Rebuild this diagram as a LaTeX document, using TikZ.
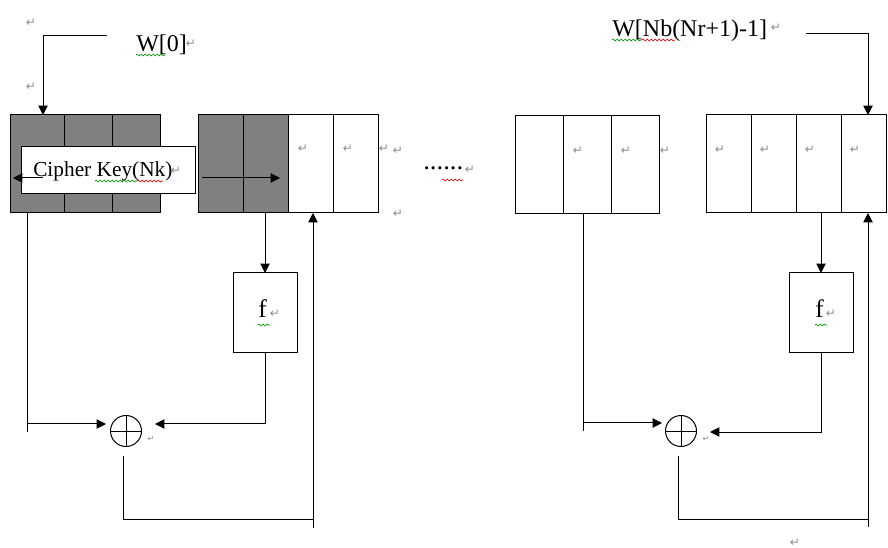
\documentclass[tikz,border=0pt]{standalone}
\usepackage{fontspec}
\setmainfont{Liberation Serif}
\newfontfamily\markfont{DejaVu Sans}
\usetikzlibrary{arrows.meta,decorations.pathmorphing}

\definecolor{keygray}{RGB}{128,128,128}
\definecolor{retgray}{RGB}{140,140,140}
\definecolor{spellgreen}{RGB}{0,150,0}
\definecolor{spellred}{RGB}{230,0,0}

\begin{document}
\begin{tikzpicture}[x=0.75pt,y=-0.75pt,
  wire/.style={line width=0.75pt},
  arr/.style={wire,-{Triangle[length=7pt,width=7pt]}},
  cell/.style={draw,line width=0.75pt,minimum height=73.5pt,inner sep=0pt,outer sep=0pt},
  keycell/.style={cell,fill=keygray},
  fbox/.style={draw,line width=0.75pt,minimum width=48pt,minimum height=60pt,inner sep=0pt,outer sep=0pt},
  xor/.style={circle,draw,line width=0.75pt,minimum size=23.25pt,inner sep=0pt,outer sep=0pt},
  bigtext/.style={font=\fontsize{18}{20}\selectfont,inner sep=0pt},
  ret/.style={font=\markfont\fontsize{9}{10}\selectfont,text=retgray,inner sep=0pt},
  tinyret/.style={font=\markfont\fontsize{6}{7}\selectfont,text=retgray,inner sep=0pt},
  squig/.style={decorate,decoration={snake,segment length=3pt,amplitude=0.7pt},line width=0.5pt}]

\fill[white] (0,0) rectangle (888,548);
\useasboundingbox (0,0) rectangle (888,548);

% first word group, all key words (shaded)
\node[keycell,minimum width=40.5pt] (a1) at (37,164) {};
\node[keycell,minimum width=36pt] (a2) at (88,164) {};
\node[keycell,minimum width=36pt] (a3) at (136,164) {};

% second word group: two key words, two expanded words
\node[keycell,minimum width=33.75pt] (b1) at (220.5,164) {};
\node[keycell,minimum width=33.75pt] (b2) at (265.5,164) {};
\node[cell,minimum width=33.75pt] (b3) at (310.5,164) {};
\node[cell,minimum width=33.75pt] (b4) at (355.5,164) {};

% later word groups
\node[cell,minimum width=36pt] (c1) at (539,164.5) {};
\node[cell,minimum width=36pt] (c2) at (587,164.5) {};
\node[cell,minimum width=36pt] (c3) at (635,164.5) {};

\node[cell,minimum width=33.75pt] (d1) at (728.5,164) {};
\node[cell,minimum width=33.75pt] (d2) at (773.5,164) {};
\node[cell,minimum width=33.75pt] (d3) at (818.5,164) {};
\node[cell,minimum width=33.75pt] (d4) at (863.5,164) {};

% cipher key label box over the key words
\node[draw,fill=white,line width=0.75pt,minimum width=130.5pt,minimum height=35.25pt,inner sep=0pt] (ck) at (108,170.5) {};
\node[font=\fontsize{16}{18}\selectfont,inner sep=0pt,anchor=base west] (ckt) at (33,177) {Cipher Key(Nk)};

% transformation boxes
\node[fbox] (f1) at (265,313) {};
\node[fbox] (f2) at (821,313) {};
\node[font=\fontsize{19}{21}\selectfont,inner sep=0pt,anchor=base west] (f1t) at (258,318) {f};
\node[font=\fontsize{19}{21}\selectfont,inner sep=0pt,anchor=base west] (f2t) at (815,318) {f};

% xor gates
\node[xor] (x1) at (126,431) {};
\node[xor] (x2) at (681,431) {};
\draw[wire] (x1.north) -- (x1.south) (x1.west) -- (x1.east);
\draw[wire] (x2.north) -- (x2.south) (x2.west) -- (x2.east);

% labels
\node[bigtext,anchor=base west] (w0) at (136,52) {W[0]};
\node[bigtext,anchor=base west] (wlast) at (612,37) {W[Nb(Nr+1)-1]};
\node[font=\fontsize{20}{22}\selectfont,inner sep=0pt,anchor=base west] (dots) at (423,170) {......};

% connector end points
\coordinate (k0) at (107,36);
\coordinate (a1in) at (43,115);
\coordinate (ckl0) at (43,178);
\coordinate (ckl1) at (13,178);
\coordinate (bs0) at (202,178);
\coordinate (bs1) at (280,178);
\coordinate (a1out) at (27,213);
\coordinate (lc) at (27,432);
\coordinate (lh) at (27,424);
\coordinate (x1in) at (106,424);
\coordinate (b2out) at (265,213);
\coordinate (f1ret) at (155,424);
\coordinate (x1o) at (123,456);
\coordinate (fbk1) at (313,519);
\coordinate (fb1) at (313,528);
\coordinate (b3in) at (313,213);

\coordinate (k1) at (806,34);
\coordinate (d4top) at (868,115);
\coordinate (c2out) at (583,213);
\coordinate (rc) at (583,431);
\coordinate (rh) at (583,423);
\coordinate (x2in) at (662,423);
\coordinate (d3out) at (821,213);
\coordinate (f2ret) at (710,432);
\coordinate (x2o) at (678,456);
\coordinate (fbk2) at (868,519);
\coordinate (fb2) at (868,527);
\coordinate (d4in) at (868,213);

% connectors, left half
\draw[arr] (k0) -| (a1in);
\draw[arr] (ckl0) -- (ckl1);
\draw[arr] (bs0) -- (bs1);
\draw[wire] (a1out) -- (lc);
\draw[arr] (lh) -- (x1in);
\draw[arr] (b2out) -- (f1.north);
\draw[arr] (f1.south) |- (f1ret);
\draw[wire] (x1o) |- (fbk1);
\draw[arr] (fb1) -- (b3in);

% connectors, right half
\draw[arr] (k1) -| (d4top);
\draw[wire] (c2out) -- (rc);
\draw[arr] (rh) -- (x2in);
\draw[arr] (d3out) -- (f2.north);
\draw[arr] (f2.south) |- (f2ret);
\draw[wire] (x2o) |- (fbk2);
\draw[arr] (fb2) -- (d4in);

% paragraph marks
\foreach \p [count=\i] in {(31,23),(31,87),(191,44),(176,171),(303,149),(348,149),(384,149),(398,151),(398,214),(470,170),(578,151),(626,151),(665,151),(776,28),(720,150),(765,150),(810,150),(855,150),(275,314),(831,314),(795,543)}
  \node[ret] (ret\i) at \p {↵};
\node[tinyret] (sret1) at (151,439) {↵};
\node[tinyret] (sret2) at (706,439) {↵};

% spelling underlines
\draw[squig,spellgreen] (136,55) -- (165,55);
\draw[squig,spellgreen] (612,40) -- (642,40);
\draw[squig,spellred] (642,40) -- (675,40);
\draw[squig,spellgreen] (95,181) -- (137,181);
\draw[squig,spellred] (137,181) -- (163,181);
\draw[squig,spellred] (442,180) -- (463,180);
\draw[squig,spellgreen] (258,325) -- (270,325);
\draw[squig,spellgreen] (815,325) -- (827,325);
\end{tikzpicture}
\end{document}
